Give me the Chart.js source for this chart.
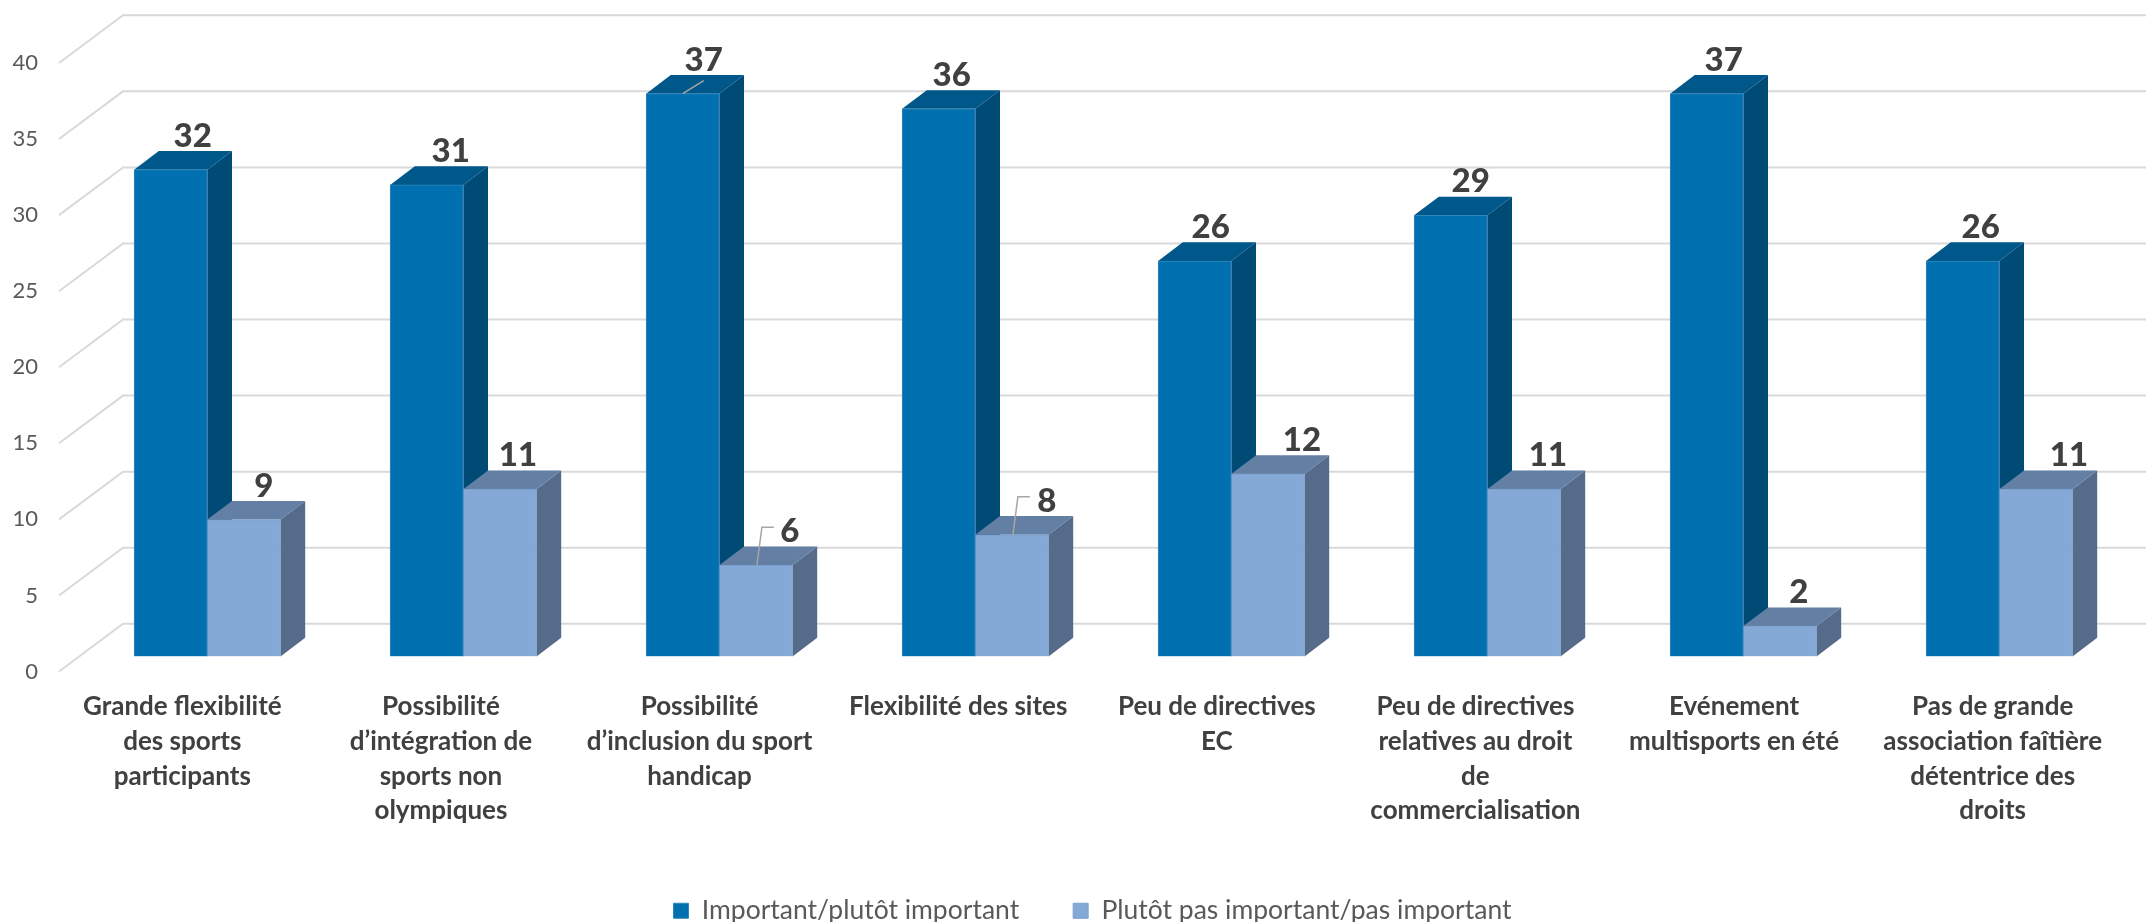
<!DOCTYPE html>
<html>
<head>
<meta charset="utf-8">
<style>
    html, body { margin: 0; padding: 0; background: #fff; }
    canvas { display: block; }
</style>
<script src="https://cdn.jsdelivr.net/npm/chart.js@4/dist/chart.umd.min.js"></script>
</head>
<body>
<canvas id="myChart" width="2146" height="922"></canvas>
<script>
var categories = [
    ["Grande flexibilité", "des sports", "participants"],
    ["Possibilité", "d’intégration de", "sports non", "olympiques"],
    ["Possibilité", "d’inclusion du sport", "handicap"],
    ["Flexibilité des sites"],
    ["Peu de directives", "EC"],
    ["Peu de directives", "relatives au droit", "de", "commercialisation"],
    ["Evénement", "multisports en été"],
    ["Pas de grande", "association faîtière", "détentrice des", "droits"]
];
var importantValues = [32, 31, 37, 36, 26, 29, 37, 26];
var notImportantValues = [9, 11, 6, 8, 12, 11, 2, 11];
var seriesNames = ["Important/plutôt important", "Plutôt pas important/pas important"];

// how far each value label sits right of its bar centre
var importantLabelShift = [22, 24, 21, 13, 16, 20, 17, 18];
var notImportantLabelShift = [20, 18, 34, 35, 34, 24, 19, 33];

// faces of the fake 3D box, front colour comes from the dataset
var faces = [
    { top: "#00588A", side: "#004A76" },
    { top: "#637FA4", side: "#566B8A" }
];
var BAR_DX = 24.7, BAR_DY = 18.7;   // bar depth
var WALL_DX = 64, WALL_DY = 47.7;   // depth of the grid wall
var WALL_FRONT_DROP = 15;           // the left end of a grid line sits below the bar plane
var LEFT = 60, RIGHT = 2129, BOTTOM_GAP = 17;
var FONT = "Lato, 'Open Sans', sans-serif";

function toData(values) {
    return values.map(function (v, i) { return { x: i, y: v }; });
}

var wall3d = {
    id: "wall3d",
    beforeDatasetsDraw: function (chart) {
        var ctx = chart.ctx;
        var y = chart.scales.y;
        ctx.save();
        ctx.strokeStyle = "#D9D9D9";
        ctx.lineWidth = 2;
        y.ticks.forEach(function (t) {
            var py = y.getPixelForValue(t.value) + WALL_FRONT_DROP;
            ctx.beginPath();
            ctx.moveTo(LEFT - 1, py);
            ctx.lineTo(LEFT - 1 + WALL_DX, py - WALL_DY);
            ctx.lineTo(chart.width, py - WALL_DY);
            ctx.stroke();
        });
        // side and top of the boxes, the fronts are the real bars drawn after this
        chart.data.datasets.forEach(function (ds, d) {
            chart.getDatasetMeta(d).data.forEach(function (bar) {
                var l = bar.x - bar.width / 2, r = bar.x + bar.width / 2;
                ctx.fillStyle = faces[d].side;
                ctx.beginPath();
                ctx.moveTo(r, bar.y);
                ctx.lineTo(r + BAR_DX, bar.y - BAR_DY);
                ctx.lineTo(r + BAR_DX, bar.base - BAR_DY);
                ctx.lineTo(r, bar.base);
                ctx.closePath();
                ctx.fill();
                ctx.fillStyle = faces[d].top;
                ctx.beginPath();
                ctx.moveTo(l, bar.y);
                ctx.lineTo(l + BAR_DX, bar.y - BAR_DY);
                ctx.lineTo(r + BAR_DX, bar.y - BAR_DY);
                ctx.lineTo(r, bar.y);
                ctx.closePath();
                ctx.fill();
            });
        });
        ctx.restore();
    }
};

var valueLabels = {
    id: "valueLabels",
    afterDatasetsDraw: function (chart) {
        var ctx = chart.ctx;
        var shifts = [importantLabelShift, notImportantLabelShift];
        ctx.save();
        // leader lines on the labels Excel had to move
        ctx.strokeStyle = "#A6A6A6";
        ctx.lineWidth = 1.5;
        var b = chart.getDatasetMeta(0).data[2];
        ctx.beginPath();
        ctx.moveTo(b.x, b.y);
        ctx.lineTo(b.x + 21, b.y - 13);
        ctx.stroke();
        [2, 3].forEach(function (i) {
            var p = chart.getDatasetMeta(1).data[i];
            ctx.beginPath();
            ctx.moveTo(p.x + 1, p.y);
            ctx.lineTo(p.x + 6, p.y - 38);
            ctx.lineTo(p.x + 18, p.y - 38);
            ctx.stroke();
        });
        ctx.fillStyle = "#404040";
        ctx.font = "900 33px " + FONT;
        ctx.textAlign = "center";
        ctx.textBaseline = "middle";
        chart.data.datasets.forEach(function (ds, d) {
            chart.getDatasetMeta(d).data.forEach(function (bar, i) {
                ctx.fillText(ds.data[i].y, bar.x + shifts[d][i], bar.y - BAR_DY - 15);
            });
        });
        ctx.restore();
    }
};

// the legend is not centred on the page in the original
var legendNudge = {
    id: "legendNudge",
    afterLayout: function (chart) {
        chart.legend.left += 56;
    }
};

var groupStep = 256, firstGroup = 207.3;

new Chart("myChart", {
    type: "bar",
    data: {
        datasets: [{
            label: seriesNames[0],
            data: toData(importantValues),
            backgroundColor: "#0070B0",
            borderColor: "#2F86BC",
            borderWidth: 1,
            xAxisID: "xBars",
            barThickness: 73.2
        }, {
            label: seriesNames[1],
            data: toData(notImportantValues),
            backgroundColor: "#85A9D6",
            borderColor: "#7BA0CE",
            borderWidth: 1,
            xAxisID: "xBars",
            barThickness: 73.2
        }]
    },
    plugins: [wall3d, valueLabels, legendNudge],
    options: {
        responsive: false,
        animation: false,
        layout: { padding: { top: 48, left: 0, right: BOTTOM_GAP, bottom: -12 } },
        scales: {
            x: {
                type: "category",
                labels: categories,
                offset: true,
                position: "bottom",
                afterFit: function (s) { s.height = 187; },
                grid: { display: false, drawTicks: false },
                border: { display: false },
                ticks: {
                    autoSkip: false,
                    maxRotation: 0,
                    padding: 33,
                    labelOffset: -7,
                    color: "#404040",
                    font: { family: FONT, size: 26, weight: "bold", lineHeight: 1.335 }
                }
            },
            // the bars sit on a slightly tighter pitch than the axis labels
            xBars: {
                type: "linear",
                display: false,
                offset: false,
                min: (LEFT - firstGroup) / groupStep,
                max: (RIGHT - firstGroup) / groupStep
            },
            y: {
                min: 0,
                max: 40,
                afterFit: function (s) { s.width = LEFT; },
                grid: { display: false, drawTicks: false },
                border: { display: false },
                ticks: {
                    stepSize: 5,
                    padding: 22,
                    labelOffset: WALL_FRONT_DROP,
                    color: "#595959",
                    font: { family: FONT, size: 22 }
                }
            }
        },
        plugins: {
            tooltip: { enabled: false },
            legend: {
                position: "bottom",
                labels: {
                    boxWidth: 15,
                    boxHeight: 15,
                    padding: 54,
                    color: "#595959",
                    font: { family: FONT, size: 26.5 }
                }
            }
        }
    }
});
</script>
</body>
</html>
